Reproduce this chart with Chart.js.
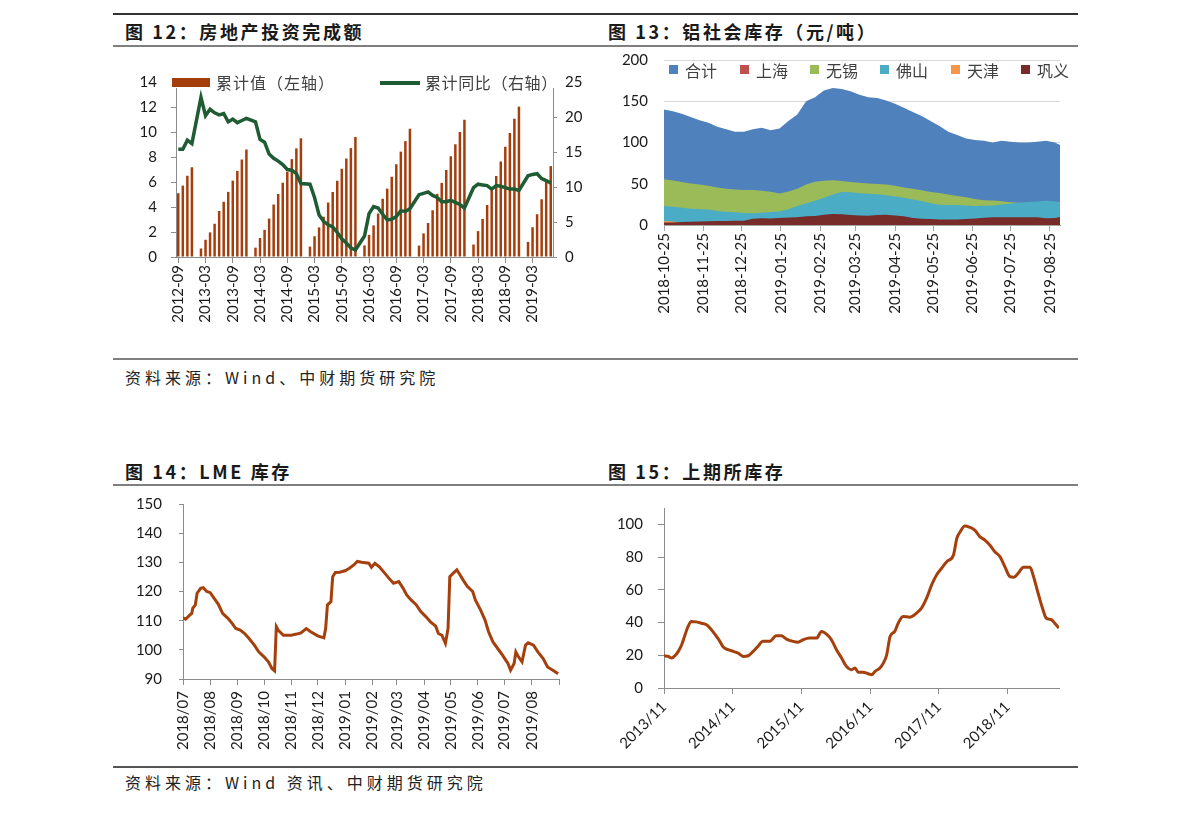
<!DOCTYPE html>
<html>
<head>
<meta charset="utf-8">
<script src="https://cdn.jsdelivr.net/npm/chart.js@4.4.0/dist/chart.umd.min.js"></script>
<style>
  body { margin: 0; background: #fff; width: 1191px; height: 815px; position: relative; overflow: hidden;
         font-family: "Noto Sans CJK SC", sans-serif; color: #1a1a1a; }
  .rule { position: absolute; left: 113px; width: 965px; height: 2px; background: #7f7f7f; }
  .title { position: absolute; font-weight: 700; font-size: 18px; letter-spacing: 2.6px; line-height: 20px; }
  .src { position: absolute; left: 125px; font-size: 16px; letter-spacing: 4px; line-height: 18px; color: #222; }
  canvas { position: absolute; }
  .lg { position: absolute; font-size: 16px; line-height: 18px; color: #404040; white-space: nowrap; }
  .sw { position: absolute; }
</style>
</head>
<body>
<div class="rule" style="top:13px;background:#333"></div>
<div class="rule" style="top:45px"></div>
<div class="rule" style="top:358px"></div>
<div class="rule" style="top:484px"></div>
<div class="rule" style="top:766px;background:#555"></div>

<div class="title" style="left:125px;top:21px">图 12：房地产投资完成额</div>
<div class="title" style="left:608px;top:21px">图 13：铝社会库存（元/吨）</div>
<div class="title" style="left:125px;top:461px">图 14：LME 库存</div>
<div class="title" style="left:608px;top:461px">图 15：上期所库存</div>

<div class="src" style="top:368px">资料来源：Wind、中财期货研究院</div>
<div class="src" style="top:773px">资料来源：Wind 资讯、中财期货研究院</div>

<canvas id="c12" width="480" height="300" style="left:113px;top:50px"></canvas>
<canvas id="c13" width="478" height="300" style="left:600px;top:50px"></canvas>
<canvas id="c14" width="470" height="275" style="left:113px;top:490px"></canvas>
<canvas id="c15" width="478" height="275" style="left:600px;top:490px"></canvas>

<!-- legend, chart 12 -->
<div style="position:absolute;left:168px;top:71px;width:394px;height:17px;background:#fff"></div>
<div class="sw" style="left:172px;top:78px;width:38px;height:9px;background:#A43E0C"></div>
<div class="lg" style="left:216px;top:73px;letter-spacing:1px">累计值（左轴）</div>
<div class="sw" style="left:380px;top:81px;width:40px;height:4px;background:#1F5B33"></div>
<div class="lg" style="left:425px;top:73px;letter-spacing:0.6px">累计同比（右轴）</div>

<!-- legend, chart 13 -->
<div class="sw" style="left:669px;top:65px;width:9px;height:9px;background:#4F81BD"></div>
<div class="lg" style="left:685px;top:61px">合计</div>
<div class="sw" style="left:740px;top:65px;width:9px;height:9px;background:#C0504D"></div>
<div class="lg" style="left:756px;top:61px">上海</div>
<div class="sw" style="left:810px;top:65px;width:9px;height:9px;background:#9BBB59"></div>
<div class="lg" style="left:826px;top:61px">无锡</div>
<div class="sw" style="left:880px;top:65px;width:9px;height:9px;background:#4BACC6"></div>
<div class="lg" style="left:896px;top:61px">佛山</div>
<div class="sw" style="left:951px;top:65px;width:9px;height:9px;background:#F79646"></div>
<div class="lg" style="left:967px;top:61px">天津</div>
<div class="sw" style="left:1021px;top:65px;width:9px;height:9px;background:#772C2A"></div>
<div class="lg" style="left:1037px;top:61px">巩义</div>

<script>
// ---------- 图12 房地产投资完成额 (2012-09 .. 2019-07, monthly) ----------
const investMonths = [];
for (let y = 2012, m = 9; !(y === 2019 && m === 8); ) {
  investMonths.push(y + '-' + String(m).padStart(2, '0'));
  m++; if (m > 12) { m = 1; y++; }
}
// cumulative value, trillion yuan (January not published)
const investValue = [
  5.10, 5.71, 6.50, 7.18,
  null, 0.68, 1.38, 1.97, 2.66, 3.68, 4.42, 5.21, 6.11, 6.89, 7.80, 8.60,
  null, 0.75, 1.52, 2.17, 3.07, 4.20, 5.04, 5.94, 6.82, 7.83, 8.69, 9.50,
  null, 0.83, 1.66, 2.37, 3.22, 4.36, 5.20, 6.10, 7.06, 7.88, 8.71, 9.60,
  null, 0.93, 1.77, 2.53, 3.48, 4.66, 5.47, 6.42, 7.42, 8.43, 9.27, 10.26,
  null, 0.91, 1.89, 2.72, 3.74, 5.05, 5.93, 6.96, 8.06, 9.02, 10.00, 10.98,
  null, 1.00, 2.07, 3.04, 4.16, 5.55, 6.48, 7.64, 8.82, 9.92, 11.06, 12.03,
  null, 1.21, 2.38, 3.42, 4.62, 6.16, 7.27
];
// cumulative YoY, %
const investYoY = [
  15.4, 15.4, 16.7, 16.2,
  null, 22.8, 20.2, 21.1, 20.6, 20.3, 20.5, 19.3, 19.7, 19.2, 19.5, 19.8,
  null, 19.3, 16.8, 16.4, 14.7, 14.1, 13.7, 13.2, 12.5, 12.4, 11.9, 10.5,
  null, 10.4, 8.5, 6.0, 5.1, 4.6, 4.3, 3.5, 2.6, 2.0, 1.3, 1.0,
  null, 3.0, 6.2, 7.2, 7.0, 6.1, 5.3, 5.4, 5.8, 6.6, 6.5, 6.9,
  null, 8.9, 9.1, 9.3, 8.8, 8.5, 7.9, 7.9, 8.1, 7.8, 7.5, 7.0,
  null, 9.9, 10.4, 10.3, 10.2, 9.7, 10.2, 10.1, 9.9, 9.7, 9.7, 9.5,
  null, 11.6, 11.8, 11.9, 11.2, 10.9, 10.6
];

// ---------- 图13 铝社会库存 (weekly) ----------
const stockDates = [
  '2018-10-25','2018-11-01','2018-11-08','2018-11-15','2018-11-22','2018-11-29','2018-12-06','2018-12-13',
  '2018-12-20','2018-12-27','2019-01-03','2019-01-10','2019-01-17','2019-01-24','2019-01-31','2019-02-07',
  '2019-02-14','2019-02-21','2019-02-28','2019-03-07','2019-03-14','2019-03-21','2019-03-28','2019-04-04',
  '2019-04-11','2019-04-18','2019-04-25','2019-05-02','2019-05-09','2019-05-16','2019-05-23','2019-05-30',
  '2019-06-06','2019-06-13','2019-06-20','2019-06-27','2019-07-04','2019-07-11','2019-07-18','2019-07-25',
  '2019-08-01','2019-08-08','2019-08-15','2019-08-22','2019-08-29','2019-09-02'
];
const stockTotal = [140,138,135,131,127,124,119,116,113,113,116,118,115,117,126,134,150,155,163,166,165,162,158,155,
  154,151,147,142,137,132,126,120,113,109,105,103,102,100,102,101,100,100,101,102,100,97];
const stockShanghai = [16,16,15,15,15,14,14,13,13,13,12,12,12,12,13,14,16,17,18,18,18,18,17,17,
  17,16,16,15,15,14,14,13,13,12,12,12,12,12,12,12,12,12,12,12,12,12];
const stockWuxi = [55.5,54,52,50.3,49,47.5,45.5,44,43,42.3,42.3,41.5,40.2,38.2,40.5,44,49,52.5,53.5,54.3,53.2,52,51.2,50.3,
  49.8,49,47.5,45.5,43.8,42,40,38.7,37,35.2,33.6,31.5,30,29.6,28.8,27.6,27,27,27,27,27.5,27.8];
const stockFoshan = [23,22,21,19.8,19.2,18.7,17,16,15.5,14.5,14.2,14.9,15.8,16.3,19,23,26.5,29.5,33,37,40,39.8,38.5,38,
  37.2,36,34.5,33,31,29,26.5,24.5,24.2,24.1,23.5,23,23.2,23.7,24.8,26,27,27.8,28.5,29.3,28.8,27];
const stockTianjin = [5,4.2,2,2,2,2,2,2,2,2,2,2,2,2,2,2,2,2,2,2,2,2,2,2,
  2,2,2,2,2,2,2,2,2,2,2,2,2,2,2,2,2,2,2,2,2,2];
const stockGongyi = [3,3,3.5,4,4.3,4.5,5,5,5.2,5.2,7.5,8.2,8,8.5,9,9.5,10.5,11,12.5,13.3,13,12.2,11.5,11.3,
  12.2,12.3,11.5,10.5,8.5,7.5,7.2,6.8,6.8,6.8,7.4,7.8,8.8,9.3,9.3,9.3,9.3,9.3,9.3,8.2,8.5,9.7];
const stockTickLabels = ['2018-10-25','2018-11-25','2018-12-25','2019-01-25','2019-02-25','2019-03-25',
  '2019-04-25','2019-05-25','2019-06-25','2019-07-25','2019-08-25'];

// ---------- 图14 LME 库存 ----------
const lmeDates = [
  '2018-07-01','2018-07-04','2018-07-08','2018-07-11','2018-07-12','2018-07-15','2018-07-17','2018-07-21','2018-07-24','2018-07-28',
  '2018-08-01','2018-08-04','2018-08-10','2018-08-15','2018-08-21','2018-08-26','2018-08-30','2018-09-04','2018-09-09','2018-09-14',
  '2018-09-20','2018-09-25','2018-10-01','2018-10-06','2018-10-10','2018-10-13','2018-10-15','2018-10-17','2018-10-23','2018-11-01',
  '2018-11-07','2018-11-12','2018-11-18','2018-11-23','2018-12-01','2018-12-08','2018-12-10','2018-12-12','2018-12-16','2018-12-18',
  '2018-12-21','2018-12-26','2019-01-01','2019-01-06','2019-01-11','2019-01-15','2019-01-20','2019-01-28','2019-01-31','2019-02-04',
  '2019-02-09','2019-02-15','2019-02-20','2019-02-25','2019-03-03','2019-03-08','2019-03-12','2019-03-17','2019-03-23','2019-03-28',
  '2019-04-03','2019-04-08','2019-04-14','2019-04-17','2019-04-21','2019-04-25','2019-04-28','2019-04-30','2019-05-04','2019-05-08',
  '2019-05-11','2019-05-15','2019-05-20','2019-05-26','2019-05-29','2019-06-04','2019-06-09','2019-06-13','2019-06-18','2019-06-24',
  '2019-06-29','2019-07-05','2019-07-08','2019-07-12','2019-07-14','2019-07-17','2019-07-21','2019-07-25','2019-07-28','2019-08-03',
  '2019-08-08','2019-08-14','2019-08-19','2019-08-25','2019-08-28','2019-08-31'
];
const lmeStock = [
  111.0,110.5,111.7,112.5,114.2,115.4,119.4,121.1,121.3,120.0,
  119.6,118.2,115.7,112.5,110.8,109.0,107.3,106.8,105.6,103.9,
  101.6,99.3,97.6,95.9,93.6,92.8,107.9,106.8,105.0,105.0,
  105.4,105.8,107.3,106.2,104.8,104.1,107.3,115.4,116.5,125.1,
  126.5,126.6,127.1,128.0,129.1,130.3,130.0,129.7,128.3,129.7,
  128.5,126.3,124.5,122.8,123.4,121.1,118.8,117.1,115.4,113.1,
  111.3,109.6,108.1,105.6,105.0,102.2,107.3,125.1,126.3,127.4,
  126.0,124.0,121.7,120.0,117.1,113.6,110.2,106.2,102.7,100.2,
  98.1,95.3,93.0,95.3,99.3,97.6,95.9,101.6,102.4,101.6,
  99.3,97.0,94.1,93.0,92.4,91.8
];
const lmeTickLabels = ['2018/07','2018/08','2018/09','2018/10','2018/11','2018/12','2019/01',
  '2019/02','2019/03','2019/04','2019/05','2019/06','2019/07','2019/08'];

// ---------- 图15 上期所库存 ----------
const shfeDates = [
  '2013-11-01','2013-11-24','2013-12-11','2013-12-29','2014-01-16','2014-02-03','2014-02-21','2014-03-09','2014-03-26','2014-04-22',
  '2014-05-19','2014-06-15','2014-07-11','2014-08-07','2014-08-25','2014-09-12','2014-10-08','2014-11-04','2014-12-01','2014-12-27',
  '2015-01-23','2015-02-18','2015-03-15','2015-04-11','2015-05-16','2015-06-21','2015-07-18','2015-08-14','2015-09-18','2015-10-15',
  '2015-11-11','2015-12-16','2016-01-21','2016-02-17','2016-03-14','2016-04-09','2016-05-06','2016-06-02','2016-06-28','2016-07-25',
  '2016-08-12','2016-08-30','2016-09-25','2016-10-22','2016-11-09','2016-11-27','2016-12-23','2017-01-10','2017-01-28','2017-02-15',
  '2017-03-12','2017-03-30','2017-04-25','2017-05-31','2017-07-05','2017-08-01','2017-08-28','2017-09-24','2017-10-20','2017-11-16',
  '2017-12-13','2018-01-18','2018-02-05','2018-02-23','2018-03-19','2018-04-15','2018-05-11','2018-06-07','2018-07-04','2018-07-30',
  '2018-08-26','2018-09-22','2018-10-18','2018-11-14','2018-12-05','2018-12-28','2019-01-25','2019-03-01','2019-03-17','2019-04-13',
  '2019-05-09','2019-05-26','2019-06-23','2019-07-10','2019-08-02'
];
const shfeStock = [
  19.7,19.3,18.3,19.7,22.4,26.4,32.5,37.6,40.7,40.4,
  39.6,38.6,35.6,31.5,28.5,25.0,23.4,22.4,21.3,19.3,
  19.7,22.4,25.4,28.5,28.5,31.9,31.9,29.9,28.5,28.0,
  29.5,30.5,30.5,34.6,32.9,29.5,23.4,18.3,13.2,11.2,
  12.2,9.6,9.6,8.7,8.1,10.2,12.2,15.2,20.3,31.5,
  34.6,39.6,43.7,43.3,45.7,48.8,54.9,63.0,69.1,73.2,
  77.2,81.3,91.5,95.5,99.0,98.2,96.5,92.5,90.4,87.4,
  83.3,80.3,74.2,68.1,67.7,70.1,73.8,73.8,69.1,57.9,
  47.8,42.7,41.7,39.6,36.6
];
const shfeTickLabels = ['2013/11','2014/11','2015/11','2016/11','2017/11','2018/11'];
const shfeYTicks = [0, 20, 40, 60, 80, 100];

// ---------- helpers ----------
const dayIndex = (s, base) => Math.round((Date.parse(s.replace(/\//g, '-')) - Date.parse(base)) / 864e5);
const toPoints = (dates, vals, base) => dates.map((d, i) => ({ x: dayIndex(d, base), y: vals[i] }));
// keep the layout padding in charge of the plot top (tick padding would otherwise push it down)
const fixY = w => s => { s.width = w; s.paddingTop = 0; s.paddingBottom = 0; };

Chart.defaults.font.family = 'Lato, "Noto Sans CJK SC", sans-serif';
Chart.defaults.font.size = 15;
Chart.defaults.color = '#1a1a1a';
Chart.defaults.animation = false;
Chart.defaults.responsive = false;
Chart.defaults.plugins.legend.display = false;
Chart.defaults.plugins.tooltip.enabled = false;

const axisGray = '#8c8c8c';
const rust = '#A5400C';

// ---------- chart 12 ----------
new Chart(document.getElementById('c12'), {
  data: {
    labels: investMonths,
    datasets: [
      { type: 'line', label: '累计同比（右轴）', data: investYoY, yAxisID: 'y1', borderColor: '#1F5B33',
        borderWidth: 3.5, pointRadius: 0, spanGaps: true, tension: 0, order: 0 },
      { type: 'bar', label: '累计值（左轴）', data: investValue, yAxisID: 'y', backgroundColor: '#A43E0C',
        barPercentage: 0.55, categoryPercentage: 1, order: 1 }
    ]
  },
  options: {
    layout: { padding: { top: 32, left: 0, right: 0, bottom: 0 } },
    scales: {
      x: {
        offset: true,
        grid: { drawOnChartArea: false, tickLength: 6, color: axisGray, offset: false },
        border: { color: axisGray },
        afterBuildTicks: s => { s.ticks = s.ticks.filter(t => t.value % 6 === 0); },
        ticks: { autoSkip: false, minRotation: 90, maxRotation: 90, padding: 2,
                 callback: v => investMonths[v] },
        afterFit: s => { s.height = 93; }
      },
      y: {
        position: 'left', min: 0, max: 14,
        ticks: { stepSize: 2, padding: 14 },
        grid: { drawOnChartArea: false, tickLength: 5, color: axisGray },
        border: { color: axisGray },
        afterFit: fixY(63)
      },
      y1: {
        position: 'right', min: 0, max: 25,
        ticks: { stepSize: 5, padding: 8 },
        grid: { drawOnChartArea: false, tickLength: 4, color: axisGray },
        border: { color: axisGray },
        afterFit: fixY(40)
      }
    }
  }
});

// ---------- chart 13 ----------
const base13 = stockDates[0];
const tickDays13 = stockTickLabels.map(s => dayIndex(s, base13));
const area = (label, vals, color, order) => ({
  label, data: toPoints(stockDates, vals, base13), fill: 'origin', backgroundColor: color,
  borderColor: color, borderWidth: 0, pointRadius: 0, tension: 0, order
});
new Chart(document.getElementById('c13'), {
  type: 'line',
  data: {
    datasets: [
      area('合计', stockTotal, '#4F81BD', 6),
      area('上海', stockShanghai, '#C0504D', 5),
      area('无锡', stockWuxi, '#9BBB59', 4),
      area('佛山', stockFoshan, '#4BACC6', 3),
      area('天津', stockTianjin, '#F79646', 2),
      area('巩义', stockGongyi, '#772C2A', 1)
    ]
  },
  options: {
    layout: { padding: { top: 10, right: 18, left: 0, bottom: 0 } },
    scales: {
      x: {
        type: 'linear', min: 0, max: dayIndex(stockDates[stockDates.length - 1], base13),
        afterBuildTicks: s => { s.ticks = tickDays13.map(v => ({ value: v })); },
        ticks: { autoSkip: false, minRotation: 90, maxRotation: 90, padding: 2,
                 callback: v => stockTickLabels[tickDays13.indexOf(v)] },
        grid: { drawOnChartArea: false, tickLength: 6, color: '#a6a6a6' },
        border: { color: '#a6a6a6' },
        afterFit: s => { s.height = 125; }
      },
      y: {
        min: 0, max: 200,
        ticks: { stepSize: 50, padding: 16 },
        grid: { color: '#d9d9d9', drawTicks: false },
        border: { display: false },
        afterFit: fixY(64)
      }
    }
  }
});

// ---------- chart 14 ----------
const base14 = '2018-07-01';
const tickDays14 = lmeTickLabels.map(s => dayIndex(s + '/01', base14));
const end14 = dayIndex('2019-09-01', base14);
new Chart(document.getElementById('c14'), {
  type: 'line',
  data: {
    datasets: [{ label: 'LME库存', data: toPoints(lmeDates, lmeStock, base14), borderColor: rust,
                 borderWidth: 3, pointRadius: 0, tension: 0 }]
  },
  options: {
    layout: { padding: { top: 14, right: 8, left: 0, bottom: 0 } },
    scales: {
      x: {
        type: 'linear', min: 0, max: end14,
        afterBuildTicks: s => { s.ticks = tickDays14.concat([end14]).map(v => ({ value: v })); },
        ticks: { autoSkip: false, minRotation: 90, maxRotation: 90, padding: 6,
                 callback: v => lmeTickLabels[tickDays14.indexOf(v)] || '' },
        grid: { drawOnChartArea: false, tickLength: 6, color: axisGray },
        border: { color: axisGray },
        afterFit: s => { s.height = 86; }
      },
      y: {
        min: 90, max: 150,
        ticks: { stepSize: 10, padding: 17 },
        grid: { drawOnChartArea: false, tickLength: 4, color: axisGray },
        border: { color: axisGray },
        afterFit: fixY(70)
      }
    }
  }
});

// ---------- chart 15 ----------
const base15 = '2013-11-01';
const tickDays15 = shfeTickLabels.map(s => dayIndex(s + '/01', base15));
new Chart(document.getElementById('c15'), {
  type: 'line',
  data: {
    datasets: [{ label: '上期所库存', data: toPoints(shfeDates, shfeStock, base15), borderColor: rust,
                 borderWidth: 3, pointRadius: 0, cubicInterpolationMode: 'monotone' }]
  },
  options: {
    layout: { padding: { top: 18, right: 19, left: 0, bottom: 0 } },
    scales: {
      x: {
        type: 'linear', min: 0, max: dayIndex(shfeDates[shfeDates.length - 1], base15),
        afterBuildTicks: s => { s.ticks = tickDays15.map(v => ({ value: v })); },
        ticks: { autoSkip: false, minRotation: 45, maxRotation: 45, padding: 4,
                 callback: v => shfeTickLabels[tickDays15.indexOf(v)] },
        grid: { drawOnChartArea: false, tickLength: 6, color: axisGray },
        border: { color: axisGray },
        afterFit: s => { s.height = 77; }
      },
      y: {
        min: 0, max: 110,
        afterBuildTicks: s => { s.ticks = shfeYTicks.map(v => ({ value: v })); },
        ticks: { padding: 15 },
        grid: { drawOnChartArea: false, tickLength: 6, color: axisGray },
        border: { color: axisGray },
        afterFit: fixY(64)
      }
    }
  }
});
</script>
</body>
</html>
